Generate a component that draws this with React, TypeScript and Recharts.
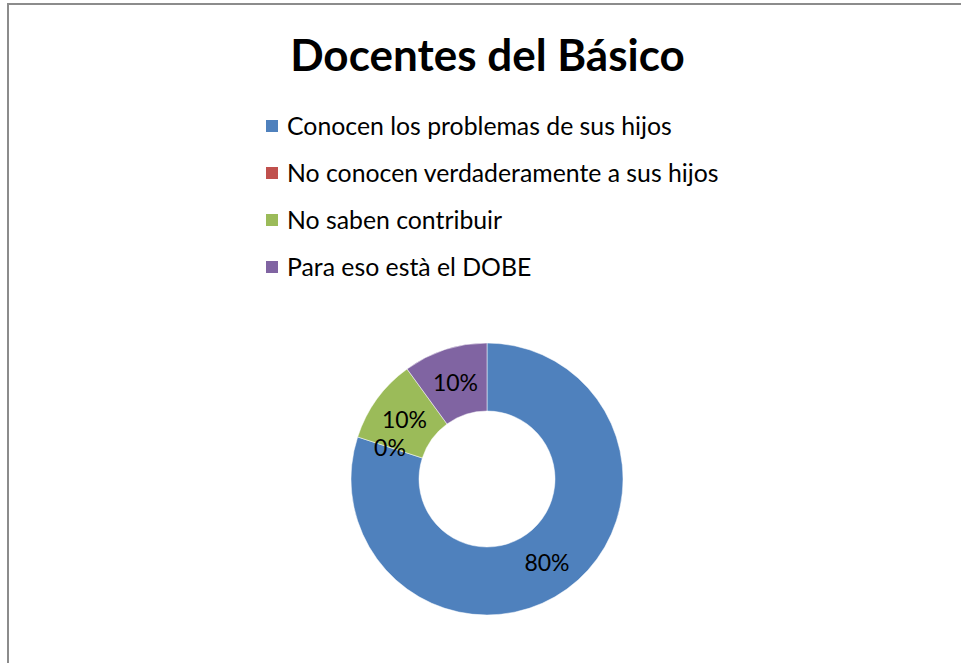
import { PieChart, Pie, Cell, Legend } from 'recharts';

const categories = [
  'Conocen los problemas de sus hijos',
  'No conocen verdaderamente a sus hijos',
  'No saben contribuir',
  'Para eso està el DOBE',
];
const values = [80, 0, 10, 10];
const COLORS = ['#4F81BD', '#C0504D', '#9BBB59', '#8064A2'];

const data = categories.map((name, i) => ({ name, value: values[i] }));

const FONT = 'Lato, "Liberation Sans", sans-serif';

const RADIAN = Math.PI / 180;

function renderLabel(props: any) {
  const { cx, cy, midAngle, innerRadius, outerRadius, percent } = props;
  const r = (innerRadius + outerRadius) / 2;
  const x = cx + r * Math.cos(-midAngle * RADIAN);
  const y = cy + r * Math.sin(-midAngle * RADIAN);
  return (
    <text
      x={x}
      y={y}
      textAnchor="middle"
      dominantBaseline="central"
      fill="#000"
      fontSize={23}
      fontFamily={FONT}
    >
      {`${Math.round((percent ?? 0) * 100)}%`}
    </text>
  );
}

function LegendList() {
  return (
    <div style={{ fontFamily: FONT, fontSize: 24.8, color: '#000' }}>
      {data.map((d, i) => (
        <div key={d.name} style={{ display: 'flex', alignItems: 'center', height: 47 }}>
          <span
            style={{
              display: 'inline-block',
              width: 12,
              height: 12,
              background: COLORS[i],
              marginRight: 9,
            }}
          />
          <span>{d.name}</span>
        </div>
      ))}
    </div>
  );
}

export default function App() {
  return (
    <div
      style={{
        position: 'absolute',
        left: 0,
        top: 0,
        width: 961,
        height: 663,
        overflow: 'hidden',
        background: '#fff',
      }}
    >
      <div
        style={{
          position: 'absolute',
          left: 7,
          top: 3,
          width: 1000,
          height: 700,
          border: '2px solid #8c8c8c',
        }}
      />
      <div
        style={{
          position: 'absolute',
          left: 0,
          top: 28,
          width: 975,
          textAlign: 'center',
          fontFamily: FONT,
          fontWeight: 'bold',
          fontSize: 44,
          lineHeight: '52px',
        }}
      >
        Docentes del Básico
      </div>
      <div style={{ position: 'absolute', left: 0, top: 0 }}>
        <PieChart width={961} height={663} margin={{ top: 0, right: 0, bottom: 0, left: 0 }}>
          <Pie
            data={data}
            dataKey="value"
            nameKey="name"
            cx={487}
            cy={479}
            innerRadius={68}
            outerRadius={136}
            startAngle={90}
            endAngle={-270}
            stroke="#fff"
            strokeWidth={0.5}
            label={renderLabel}
            labelLine={false}
            isAnimationActive={false}
          >
            {data.map((_, i) => (
              <Cell key={i} fill={COLORS[i]} />
            ))}
          </Pie>
          <Legend
            layout="vertical"
            content={() => <LegendList />}
            wrapperStyle={{ position: 'absolute', left: 266, top: 102, width: 600 }}
          />
        </PieChart>
      </div>
    </div>
  );
}
